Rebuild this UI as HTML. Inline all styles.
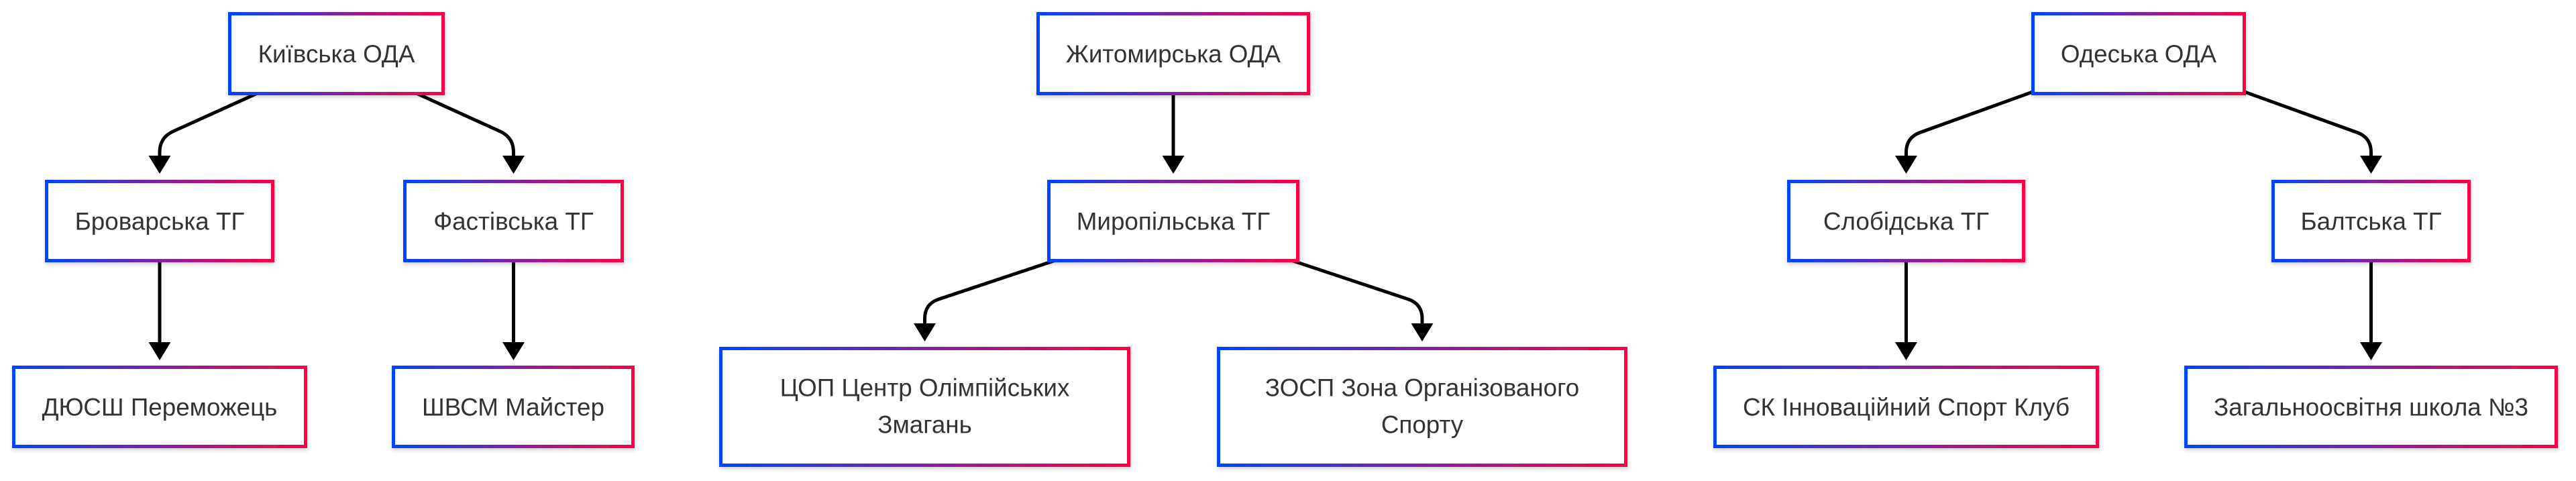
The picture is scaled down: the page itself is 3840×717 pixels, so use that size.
<!DOCTYPE html>
<html>
<head>
<meta charset="utf-8">
<style>
  html, body { margin: 0; padding: 0; background: #ffffff; }
  body { width: 3840px; height: 717px; overflow: hidden; }
  svg { display: block; }
  text { font-family: "Liberation Sans", Arial, sans-serif; font-size: 36.8px; fill: #333333; text-anchor: middle; }
</style>
</head>
<body>
<svg width="3840" height="717" viewBox="0 0 3840 717" xmlns="http://www.w3.org/2000/svg">
  <defs>
    <linearGradient id="g" x1="0" y1="0" x2="1" y2="0">
      <stop offset="0" stop-color="#0044ff"/>
      <stop offset="1" stop-color="#ff0044"/>
    </linearGradient>
    <filter id="sh" x="-10%" y="-20%" width="120%" height="150%">
      <feDropShadow dx="1" dy="3" stdDeviation="3" flood-color="#000000" flood-opacity="0.18"/>
    </filter>
  </defs>

  <!-- Edges -->
  <g fill="none" stroke="#000000" stroke-width="5">
    <!-- Kyiv -> Brovary -->
    <path d="M381.6,139.9 L258,195.9 Q238,205 238,227 L238,234"/>
    <!-- Kyiv -> Fastiv -->
    <path d="M622.5,139.9 L745.5,195.9 Q765.5,205 765.5,227 L765.5,234"/>
    <!-- Brovary -> DYuSSh -->
    <path d="M238,391 L238,512"/>
    <!-- Fastiv -> ShVSM -->
    <path d="M765.5,391 L765.5,512"/>

    <!-- Zhytomyr -> Miropil -->
    <path d="M1749,142 L1749,234"/>
    <!-- Miropil -> TsOP -->
    <path d="M1749,329.5 L1399.4,446 Q1378.5,453 1378.5,475 L1378.5,484"/>
    <!-- Miropil -> ZOSP -->
    <path d="M1749,329.5 L2099.1,446 Q2120,453 2120,475 L2120,484"/>

    <!-- Odesa -> Slobid -->
    <path d="M3188,80 L2862.2,197.5 Q2841.5,205 2841.5,227 L2841.5,234"/>
    <!-- Odesa -> Balta -->
    <path d="M3188,80 L3513.8,197.5 Q3534.5,205 3534.5,227 L3534.5,234"/>
    <!-- Slobid -> SK -->
    <path d="M2841.5,391 L2841.5,512"/>
    <!-- Balta -> Zahal -->
    <path d="M3534.5,391 L3534.5,512"/>
  </g>

  <!-- Arrowheads -->
  <g fill="#000000">
    <polygon points="221.5,232 254.5,232 238,259"/>
    <polygon points="749,232 782,232 765.5,259"/>
    <polygon points="221.5,510 254.5,510 238,537"/>
    <polygon points="749,510 782,510 765.5,537"/>

    <polygon points="1732.5,232 1765.5,232 1749,259"/>
    <polygon points="1362,482 1395,482 1378.5,509"/>
    <polygon points="2103.5,482 2136.5,482 2120,509"/>

    <polygon points="2825,232 2858,232 2841.5,259"/>
    <polygon points="3518,232 3551,232 3534.5,259"/>
    <polygon points="2825,510 2858,510 2841.5,537"/>
    <polygon points="3518,510 3551,510 3534.5,537"/>
  </g>

  <!-- Nodes -->
  <g fill="#ffffff" stroke="url(#g)" stroke-width="5" filter="url(#sh)">
    <!-- Kyiv -->
    <rect x="342.5" y="20.5" width="318" height="119"/>
    <rect x="69.5" y="270.5" width="337" height="118"/>
    <rect x="603.5" y="270.5" width="324" height="118"/>
    <rect x="20.5" y="547.5" width="435" height="118"/>
    <rect x="586.5" y="547.5" width="357" height="118"/>
    <!-- Zhytomyr -->
    <rect x="1547.5" y="20.5" width="403" height="119"/>
    <rect x="1563.5" y="270.5" width="371" height="118"/>
    <rect x="1074.5" y="519.5" width="608" height="174"/>
    <rect x="1816.5" y="519.5" width="607" height="174"/>
    <!-- Odesa -->
    <rect x="3030.5" y="20.5" width="315" height="119"/>
    <rect x="2666.5" y="270.5" width="350" height="118"/>
    <rect x="3388.5" y="270.5" width="292" height="118"/>
    <rect x="2556.5" y="547.5" width="570" height="118"/>
    <rect x="3258.5" y="547.5" width="552" height="118"/>
  </g>

  <!-- Labels -->
  <g>
    <text x="501.5" y="93">Київська ОДА</text>
    <text x="238" y="342.5">Броварська ТГ</text>
    <text x="765.5" y="342.5">Фастівська ТГ</text>
    <text x="238" y="619.5">ДЮСШ Переможець</text>
    <text x="765" y="619.5">ШВСМ Майстер</text>

    <text x="1749" y="93">Житомирська ОДА</text>
    <text x="1749" y="342.5">Миропільська ТГ</text>
    <text x="1378.5" y="590.5">ЦОП Центр Олімпійських</text>
    <text x="1378.5" y="645.5">Змагань</text>
    <text x="2120" y="590.5">ЗОСП Зона Організованого</text>
    <text x="2120" y="645.5">Спорту</text>

    <text x="3188" y="93">Одеська ОДА</text>
    <text x="2841.5" y="342.5">Слобідська ТГ</text>
    <text x="3534.5" y="342.5">Балтська ТГ</text>
    <text x="2841.5" y="619.5">СК Інноваційний Спорт Клуб</text>
    <text x="3534.5" y="619.5">Загальноосвітня школа №3</text>
  </g>
</svg>
</body>
</html>
